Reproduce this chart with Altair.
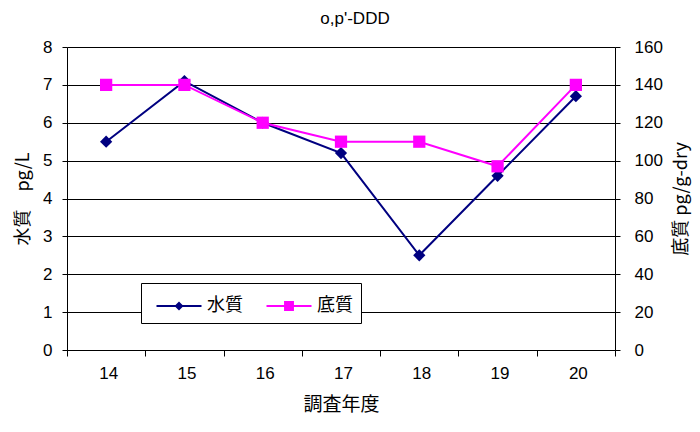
import altair as alt
import pandas as pd

years = [14, 15, 16, 17, 18, 19, 20]
water = [5.5, 7.1, 6.0, 5.2, 2.5, 4.6, 6.7]          # pg/L
sediment = [140, 140, 120, 110, 110, 97, 140]        # pg/g-dry
series_names = ["水質", "底質"]
series_colors = ["#000080", "#FF00FF"]

FONT = "Liberation Sans, Noto Sans CJK JP, sans-serif"
JFONT = "Noto Sans CJK JP, Liberation Sans, sans-serif"

df_w = pd.DataFrame({"year": years, "value": water})
df_s = pd.DataFrame({"year": years, "value": sediment})
df_leg = pd.DataFrame({"series": series_names, "year": [14, 14], "value": [0, 0]})

x_ticks = [13.5, 14.5, 15.5, 16.5, 17.5, 18.5, 19.5, 20.5]
W, H = 548, 303

x_enc = alt.X(
    "year:Q",
    scale=alt.Scale(domain=[13.5, 20.5], nice=False, zero=False),
    axis=alt.Axis(
        values=x_ticks,
        labelExpr="datum.value < 20 ? toString(datum.value + 0.5) : ''",
        labelOffset=W / 7 / 2 + 2,
        labelFlush=False,
        labelOverlap=False,
        grid=False,
        tickSize=6,
        tickColor="black",
        domainColor="black",
        labelFontSize=17,
        labelFont=FONT,
        labelColor="black",
        labelPadding=9,
        title="調査年度",
        titleFont=JFONT,
        titleFontSize=19,
        titleFontWeight="normal",
        titleColor="black",
        titlePadding=14,
    ),
)

y_left = alt.Y(
    "value:Q",
    scale=alt.Scale(domain=[0, 8], nice=False),
    axis=alt.Axis(
        values=list(range(0, 9)),
        labelOverlap=False,
        labelFlush=False,
        grid=True,
        gridColor="black",
        gridOpacity=1,
        gridWidth=1,
        tickSize=5,
        tickColor="black",
        domainColor="black",
        labelFontSize=17,
        labelFont=FONT,
        labelColor="black",
        labelPadding=10,
        title="水質　pg/L",
        titleFont=JFONT,
        titleFontSize=18,
        titleFontWeight="normal",
        titleColor="black",
        titlePadding=10,
    ),
)

y_right = alt.Y(
    "value:Q",
    scale=alt.Scale(domain=[0, 160], nice=False),
    axis=alt.Axis(
        orient="right",
        values=list(range(0, 161, 20)),
        labelOverlap=False,
        labelFlush=False,
        grid=False,
        tickSize=5,
        tickColor="black",
        domainColor="black",
        labelFontSize=17,
        labelFont=FONT,
        labelColor="black",
        labelPadding=14,
        title="底質 pg/g-dry",
        titleFont=JFONT,
        titleFontSize=18,
        titleFontWeight="normal",
        titleColor="black",
        titlePadding=10,
        titleAngle=270,
        titleBaseline="top",
    ),
)

w_line = alt.Chart(df_w).mark_line(color=series_colors[0], strokeWidth=2).encode(x=x_enc, y=y_left)
w_pts = alt.Chart(df_w).mark_point(
    shape="diamond", filled=True, opacity=1, size=150, color=series_colors[0]
).encode(x=x_enc, y=y_left)

# legend-only layer (invisible marks); symbols drawn as line + marker
leg_shapes = [
    "M-1.5,-0.07H1.5V0.07H-1.5Z M-0.3,0L0,-0.3L0.3,0L0,0.3Z",
    "M-1.5,-0.07H1.5V0.07H-1.5Z M-0.33,-0.33H0.33V0.33H-0.33Z",
]
legend_cfg = dict(
    title=None,
    orient="none",
    direction="horizontal",
    legendX=74,
    legendY=236,
    strokeColor="black",
    fillColor="white",
    padding=8,
    symbolSize=900,
    symbolOpacity=1,
    symbolStrokeWidth=0,
    symbolOffset=15,
    labelFontSize=18,
    labelFont=JFONT,
    labelColor="black",
    labelOffset=13,
    columnPadding=16,
)
leg_layer = alt.Chart(df_leg).mark_point(filled=True, opacity=0).encode(
    x=x_enc,
    y=y_left,
    color=alt.Color(
        "series:N",
        scale=alt.Scale(domain=series_names, range=series_colors),
        legend=alt.Legend(**legend_cfg),
    ),
    shape=alt.Shape(
        "series:N",
        scale=alt.Scale(domain=series_names, range=leg_shapes),
        legend=alt.Legend(**legend_cfg),
    ),
)

water_layer = alt.layer(w_line, w_pts, leg_layer)

s_line = alt.Chart(df_s).mark_line(color=series_colors[1], strokeWidth=2).encode(x=x_enc, y=y_right)
s_pts = alt.Chart(df_s).mark_point(
    shape="square", filled=True, opacity=1, size=150, color=series_colors[1]
).encode(x=x_enc, y=y_right)
sed_layer = alt.layer(s_line, s_pts)

chart = (
    alt.layer(water_layer, sed_layer)
    .resolve_scale(y="independent")
    .properties(
        width=W,
        height=H,
        title=alt.TitleParams(
            "o,p'-DDD", fontSize=17, font=FONT, fontWeight="normal", color="black",
            offset=10, dx=14,
        ),
        autosize=alt.AutoSizeParams(type="none"),
        padding={"left": 59, "top": 39, "right": 77, "bottom": 66},
    )
    .configure_view(stroke="black", strokeWidth=1)
    .configure(background="white")
)

chart.save("out.html", embed_options={"renderer": "svg", "actions": False})
